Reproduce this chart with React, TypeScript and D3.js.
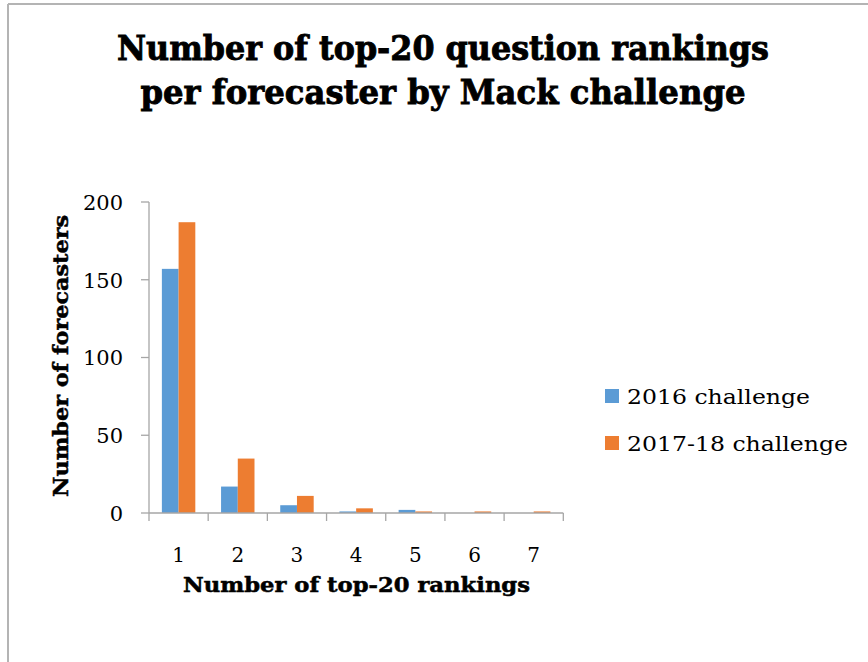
import React from "react";
import * as d3 from "d3";

const categories: string[] = ["1", "2", "3", "4", "5", "6", "7"];
const seriesNames: string[] = ["2016 challenge", "2017-18 challenge"];
const values2016: number[] = [157, 17, 5, 1, 2, 0, 0];
const values2017: number[] = [187, 35, 11, 3, 1, 1, 1];
const yTicks: number[] = [0, 50, 100, 150, 200];
const colors: string[] = ["#5B9BD5", "#ED7D31"];
const titleLines: string[] = ["Number of top-20 question rankings", "per forecaster by Mack challenge"];

export default function App() {
  const W = 868, H = 662;
  const left = 149, right = 563.3, top = 202, bottom = 513;
  const x0 = d3.scaleBand<string>().domain(categories).range([left, right]).paddingInner(0).paddingOuter(0);
  const x1 = d3.scaleBand<string>().domain(seriesNames).range([0, x0.bandwidth()]).paddingInner(0).paddingOuter(0.77);
  const y = d3.scaleLinear().domain([0, 200]).range([bottom, top]);
  const series = [values2016, values2017];
  const font = "'DejaVu Serif', serif";
  const axisColor = "#a6a6a6";
  const tickPositions = categories.map((c) => x0(c) as number).concat([right]);

  return (
    <svg width={W} height={H} style={{ position: "absolute", left: 0, top: 0, background: "#fff" }} fontFamily={font}>
      <rect x={0} y={0} width={W} height={H} fill="#fff" />
      <line x1={8} y1={4} x2={W} y2={4} stroke="#b4b4b4" strokeWidth={2} />
      <line x1={8} y1={4} x2={8} y2={H} stroke="#b4b4b4" strokeWidth={2} />

      {titleLines.map((t, i) => (
        <text key={t} x={443} y={60 + i * 43.5} textAnchor="middle" fontSize={34} fontWeight="bold" fill="#000"
          stroke="#000" strokeWidth={0.9}
          textLength={i === 0 ? 652 : 605} lengthAdjust="spacingAndGlyphs">{t}</text>
      ))}

      {series.map((vals, si) =>
        vals.map((v, ci) => (
          <rect key={`${si}-${ci}`}
            x={(x0(categories[ci]) as number) + (x1(seriesNames[si]) as number)}
            y={y(v)} width={x1.bandwidth()} height={bottom - y(v)} fill={colors[si]} />
        ))
      )}

      <line x1={left} y1={top} x2={left} y2={bottom} stroke={axisColor} strokeWidth={1.3} />
      {yTicks.map((t) => (
        <g key={t}>
          <line x1={left - 8} x2={left} y1={y(t)} y2={y(t)} stroke={axisColor} strokeWidth={1.3} />
          <text x={123} y={y(t)} dy="0.37em" textAnchor="end" fontSize={21} fill="#000">{t}</text>
        </g>
      ))}

      <line x1={left} y1={bottom} x2={right} y2={bottom} stroke={axisColor} strokeWidth={1.3} />
      {tickPositions.map((p, i) => (
        <line key={i} x1={p} x2={p} y1={bottom} y2={bottom + 8} stroke={axisColor} strokeWidth={1.3} />
      ))}
      {categories.map((c) => (
        <text key={c} x={(x0(c) as number) + x0.bandwidth() / 2} y={561.5} textAnchor="middle" fontSize={20} fill="#000">{c}</text>
      ))}

      <text x={356.5} y={592} textAnchor="middle" fontSize={20} fontWeight="bold" fill="#000"
        stroke="#000" strokeWidth={0.5}
        textLength={347} lengthAdjust="spacingAndGlyphs">Number of top-20 rankings</text>
      <text transform={`translate(68,356) rotate(-90)`} textAnchor="middle" fontSize={21} fontWeight="bold" fill="#000"
        stroke="#000" strokeWidth={0.5}
        textLength={282} lengthAdjust="spacingAndGlyphs">Number of forecasters</text>

      {seriesNames.map((s, i) => (
        <g key={s}>
          <rect x={605} y={389 + i * 47} width={14} height={14} fill={colors[i]} />
          <text x={627} y={403.5 + i * 47} fontSize={21} fill="#000"
            textLength={i === 0 ? 183 : 221} lengthAdjust="spacingAndGlyphs">{s}</text>
        </g>
      ))}
    </svg>
  );
}
